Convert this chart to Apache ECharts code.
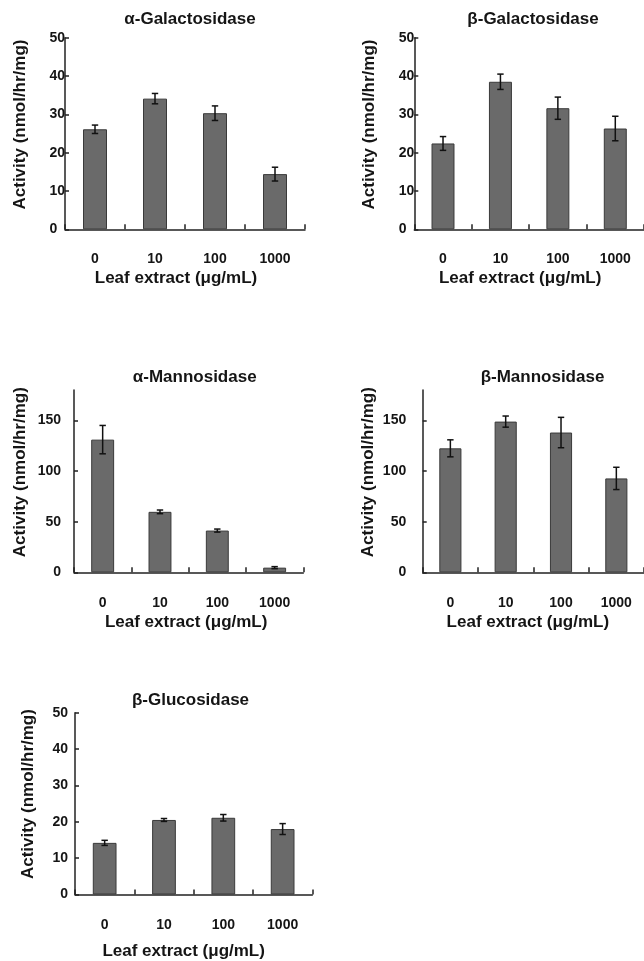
<!DOCTYPE html>
<html>
<head>
<meta charset="utf-8">
<script src="https://cdn.jsdelivr.net/npm/echarts@6/dist/echarts.min.js"></script>
<style>
html,body{margin:0;padding:0;background:#fff;}
#chart{width:644px;height:961px;}
</style>
</head>
<body>
<div id="chart"></div>
<script>
// ---- data ----
const categories = ['0', '10', '100', '1000'];
const panelTitles = ['α-Galactosidase', 'β-Galactosidase', 'α-Mannosidase', 'β-Mannosidase', 'β-Glucosidase'];
const yAxisTitle = 'Activity (nmol/hr/mg)';
const xAxisTitle = 'Leaf extract (μg/mL)';

const aGalMean = [26.1, 34.1, 30.3, 14.4];
const aGalErr  = [1.1, 1.35, 1.9, 1.8];
const bGalMean = [22.4, 38.5, 31.6, 26.3];
const bGalErr  = [1.8, 2.0, 2.9, 3.2];
const aManMean = [131, 59.7, 41.2, 4.6];
const aManErr  = [14, 1.8, 1.5, 1.0];
const bManMean = [122.4, 148.8, 138, 92.7];
const bManErr  = [8.4, 5.5, 15, 11];
const bGluMean = [14.2, 20.5, 21.1, 18.0];
const bGluErr  = [0.7, 0.4, 0.9, 1.5];

const yTicksGal = [0, 10, 20, 30, 40, 50];
const yTicksMan = [0, 50, 100, 150];

// ---- layout (positions / styles only) ----
const layout = [
  {grid:{left:65, top:37.7, width:240, height:191.6}, yMax:50, yTicks:yTicksGal, labAlign:'left', labMargin:15.5,
   yGap:36.5, yShift:18, title:[190,11], xLabMargin:23, xGap:41, xShift:18},
  {grid:{left:414.3, top:37.7, width:238, height:191.6}, yMax:50, yTicks:yTicksGal, labAlign:'left', labMargin:15.5,
   yGap:36.8, yShift:18, title:[533,11], xLabMargin:23, xGap:41, xShift:18},
  {grid:{left:74, top:390, width:229.3, height:182.3}, yMax:180, yTicks:yTicksMan, labAlign:'right', labMargin:13,
   yGap:45.5, yShift:18, title:[194.7,369], xLabMargin:24, xGap:41.5, xShift:5},
  {grid:{left:422.7, top:390, width:229.6, height:182.3}, yMax:180, yTicks:yTicksMan, labAlign:'right', labMargin:16.5,
   yGap:46, yShift:18, title:[542.5,369], xLabMargin:24, xGap:41.5, xShift:11},
  {grid:{left:75, top:712.7, width:237.3, height:182.3}, yMax:50, yTicks:yTicksGal, labAlign:'right', labMargin:7,
   yGap:38.5, yShift:19, title:[190.5,692], xLabMargin:24, xGap:48.5, xShift:20}
];
const means = [aGalMean, bGalMean, aManMean, bManMean, bGluMean];
const errs  = [aGalErr, bGalErr, aManErr, bManErr, bGluErr];

const TXT = '#151515';
const mainFont = "'Liberation Sans', Arial, sans-serif";

const option = {
  animation: false,
  backgroundColor: '#ffffff',
  title: [], grid: [], xAxis: [], yAxis: [], series: []
};

layout.forEach((L, i) => {
  option.title.push({
    text: panelTitles[i], left: L.title[0], top: L.title[1], textAlign: 'center', padding: 0,
    textStyle: {fontFamily: mainFont, fontWeight: 'bold', fontSize: 17, color: TXT}
  });
  option.grid.push(Object.assign({containLabel: false}, L.grid));
  option.xAxis.push({
    type: 'category', gridIndex: i, data: categories,
    name: xAxisTitle, nameLocation: 'middle', nameGap: L.xGap,
    nameTextStyle: {fontFamily: mainFont, fontWeight: 'bold', fontSize: 17, color: TXT, padding: [0, L.xShift, 0, 0]},
    axisLine: {lineStyle: {color: '#222', width: 1.5}},
    axisTick: {show: true, inside: true, length: 5, lineStyle: {color: '#222', width: 1.5}},
    axisLabel: {fontFamily: mainFont, fontWeight: 'bold', fontSize: 14, color: TXT, margin: L.xLabMargin},
    splitLine: {show: false}
  });
  option.yAxis.push({
    type: 'value', gridIndex: i, min: 0, max: L.yMax,
    name: yAxisTitle, nameLocation: 'middle', nameGap: L.yGap, nameRotate: 90,
    nameTextStyle: {fontFamily: mainFont, fontWeight: 'bold', fontSize: 17, color: TXT, padding: [0, 0, 0, L.yShift]},
    axisLine: {show: true, lineStyle: {color: '#222', width: 1.5}},
    axisTick: {show: true, inside: true, length: 4, customValues: L.yTicks, lineStyle: {color: '#222', width: 1.5}},
    axisLabel: {fontFamily: mainFont, fontWeight: 'bold', fontSize: 14, color: TXT, margin: L.labMargin,
      align: L.labAlign, customValues: L.yTicks},
    splitLine: {show: false}
  });
  option.series.push({
    type: 'bar', xAxisIndex: i, yAxisIndex: i, data: means[i], barWidth: '40%',
    itemStyle: {color: '#6a6a6a', borderColor: '#3a3a3a', borderWidth: 1}
  });
  option.series.push({
    type: 'custom', xAxisIndex: i, yAxisIndex: i, z: 5,
    data: means[i].map((m, k) => [k, m - errs[i][k], m + errs[i][k]]),
    encode: {x: 0, y: [1, 2]},
    renderItem: function (params, api) {
      const x = api.value(0);
      const lo = api.coord([x, api.value(1)]);
      const hi = api.coord([x, api.value(2)]);
      const w = 3.2;
      const st = {stroke: '#111', lineWidth: 1.5, fill: null};
      return {type: 'group', children: [
        {type: 'line', shape: {x1: lo[0], y1: lo[1], x2: hi[0], y2: hi[1]}, style: st},
        {type: 'line', shape: {x1: lo[0]-w, y1: lo[1], x2: lo[0]+w, y2: lo[1]}, style: st},
        {type: 'line', shape: {x1: hi[0]-w, y1: hi[1], x2: hi[0]+w, y2: hi[1]}, style: st}
      ]};
    }
  });
});

const chart = echarts.init(document.getElementById('chart'), null, {renderer: 'canvas'});
chart.setOption(option);
</script>
</body>
</html>
